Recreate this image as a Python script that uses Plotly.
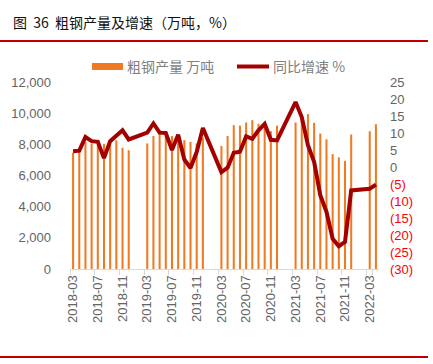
import plotly.graph_objects as go

# ---------------- data ----------------
months = [
    "2018-03", "2018-04", "2018-05", "2018-06", "2018-07", "2018-08", "2018-09", "2018-10", "2018-11", "2018-12",
    "2019-01", "2019-02",
    "2019-03", "2019-04", "2019-05", "2019-06", "2019-07", "2019-08", "2019-09", "2019-10", "2019-11", "2019-12",
    "2020-01", "2020-02",
    "2020-03", "2020-04", "2020-05", "2020-06", "2020-07", "2020-08", "2020-09", "2020-10", "2020-11", "2020-12",
    "2021-01", "2021-02",
    "2021-03", "2021-04", "2021-05", "2021-06", "2021-07", "2021-08", "2021-09", "2021-10", "2021-11", "2021-12",
    "2022-01", "2022-02",
    "2022-03", "2022-04",
]

# 粗钢产量 万吨 (Jan/Feb not reported)
output_2018 = [7460, 7520, 8140, 8050, 8010, 8030, 8160, 8260, 7780, 7620]
output_2019 = [8060, 8530, 8900, 8750, 8530, 8280, 8270, 8160, 8060, 8420]
output_2020 = [7890, 8530, 9230, 9200, 9400, 9550, 9320, 9260, 8850, 9200]
output_2021 = [9400, 9790, 9940, 9380, 8690, 8320, 7370, 7160, 6940, 8630]
output_2022 = [8840, 9290]

# 同比增速 %
yoy_2018 = [4.6, 4.8, 8.8, 7.6, 7.4, 2.6, 7.6, 9.1, 10.8, 8.1]
yoy_2019 = [10.1, 12.8, 10.1, 10.0, 5.0, 9.5, 2.2, -0.3, 4.4, 11.5]
yoy_2020 = [-1.5, -0.2, 4.2, 4.5, 9.0, 8.3, 10.8, 12.7, 8.0, 7.8]
yoy_2021 = [19.1, 14.7, 6.4, 1.5, -8.3, -13.2, -21.1, -23.3, -22.0, -6.9]
yoy_2022 = [-6.4, -5.2]

gap = [None, None]
output = output_2018 + gap + output_2019 + gap + output_2020 + gap + output_2021 + gap + output_2022
yoy = yoy_2018 + gap + yoy_2019 + gap + yoy_2020 + gap + yoy_2021 + gap + yoy_2022

x_labels = months[::4]

left_ticks = [0, 2000, 4000, 6000, 8000, 10000, 12000]
right_ticks = [-30, -25, -20, -15, -10, -5, 0, 5, 10, 15, 20, 25]

title_text = "图&nbsp;&nbsp;36&nbsp;&nbsp;粗钢产量及增速（万吨，%）"
bar_name = "粗钢产量 万吨"
line_name = "同比增速 %"

# ---------------- style ----------------
W, H = 433, 364
L, R, T, B = 70, 379, 82, 269
BAR_COLOR = "#F07A22"
LINE_COLOR = "#A50000"
AXIS_TEXT = "#646464"
NUM_FONT = "Liberation Sans, Arial, sans-serif"
CJK_FONT = "Noto Sans CJK SC"


def px(xp):
    return (xp - L) / (R - L)


def py(yp):
    return (B - yp) / (B - T)


def right_label(v):
    if v < 0:
        return '<span style="color:#FF0000">(%d)</span>' % (-v)
    return str(v)


fig = go.Figure()
fig.add_trace(go.Bar(
    x=months, y=output, name=bar_name, marker=dict(color=BAR_COLOR, line=dict(width=0)),
    width=0.33, yaxis="y", showlegend=False,
))
fig.add_trace(go.Scatter(
    x=months, y=yoy, name=line_name, mode="lines", connectgaps=True,
    line=dict(color=LINE_COLOR, width=4), yaxis="y2", showlegend=False,
))

shapes = [
    # title rule lines
    dict(type="line", xref="paper", yref="paper", x0=px(0), x1=px(428), y0=py(41), y1=py(41),
         line=dict(color="#C00000", width=2)),
    dict(type="line", xref="paper", yref="paper", x0=px(0), x1=px(428), y0=py(357), y1=py(357),
         line=dict(color="#C00000", width=2)),
    # legend symbols
    dict(type="rect", xref="paper", yref="paper", x0=px(92), x1=px(123), y0=py(70), y1=py(63),
         fillcolor=BAR_COLOR, line=dict(width=0)),
    dict(type="line", xref="paper", yref="paper", x0=px(237), x1=px(269), y0=py(66.5), y1=py(66.5),
         line=dict(color=LINE_COLOR, width=4)),
]

annotations = [
    dict(text=title_text, xref="paper", yref="paper", x=px(11), y=py(22), xanchor="left", yanchor="middle",
         showarrow=False, font=dict(family=CJK_FONT, size=14, color="#111111")),
    dict(text=bar_name, xref="paper", yref="paper", x=px(125), y=py(66.5), xanchor="left", yanchor="middle",
         showarrow=False, font=dict(family=CJK_FONT, size=14, color="#7F7F7F")),
    dict(text=line_name, xref="paper", yref="paper", x=px(271), y=py(66.5), xanchor="left", yanchor="middle",
         showarrow=False, font=dict(family=CJK_FONT, size=14, color="#7F7F7F")),
]

fig.update_layout(
    width=W, height=H,
    margin=dict(l=L, r=W - R, t=T, b=H - B, pad=0),
    paper_bgcolor="white", plot_bgcolor="white",
    hovermode=False,
    shapes=shapes, annotations=annotations,
    xaxis=dict(
        type="category", categoryorder="array", categoryarray=months,
        range=[-0.5, len(months) - 0.5],
        tickmode="array", tickvals=x_labels, ticktext=x_labels,
        tickangle=-90, tickfont=dict(family=NUM_FONT, size=13, color=AXIS_TEXT),
        showline=True, linecolor="#D9D9D9", linewidth=1,
        ticks="outside", ticklen=5, tickcolor="#D9D9D9", tickson="boundaries",
        showgrid=False, zeroline=False, fixedrange=True,
    ),
    yaxis=dict(
        range=[0, 12000], tickmode="array", tickvals=left_ticks,
        ticktext=["{:,}".format(v) for v in left_ticks],
        tickfont=dict(family=NUM_FONT, size=13, color=AXIS_TEXT),
        showgrid=False, zeroline=False, showline=False, ticks="", ticklabelstandoff=18,
        fixedrange=True,
    ),
    yaxis2=dict(
        overlaying="y", side="right", range=[-30, 25], tickmode="array", tickvals=right_ticks,
        ticktext=[right_label(v) for v in right_ticks],
        tickfont=dict(family=NUM_FONT, size=13, color=AXIS_TEXT),
        showgrid=False, zeroline=False, showline=False, ticks="", ticklabelstandoff=10,
        fixedrange=True,
    ),
)

fig.write_html("out.html", config={"displayModeBar": False},
               post_script="document.body.style.margin='0';")
